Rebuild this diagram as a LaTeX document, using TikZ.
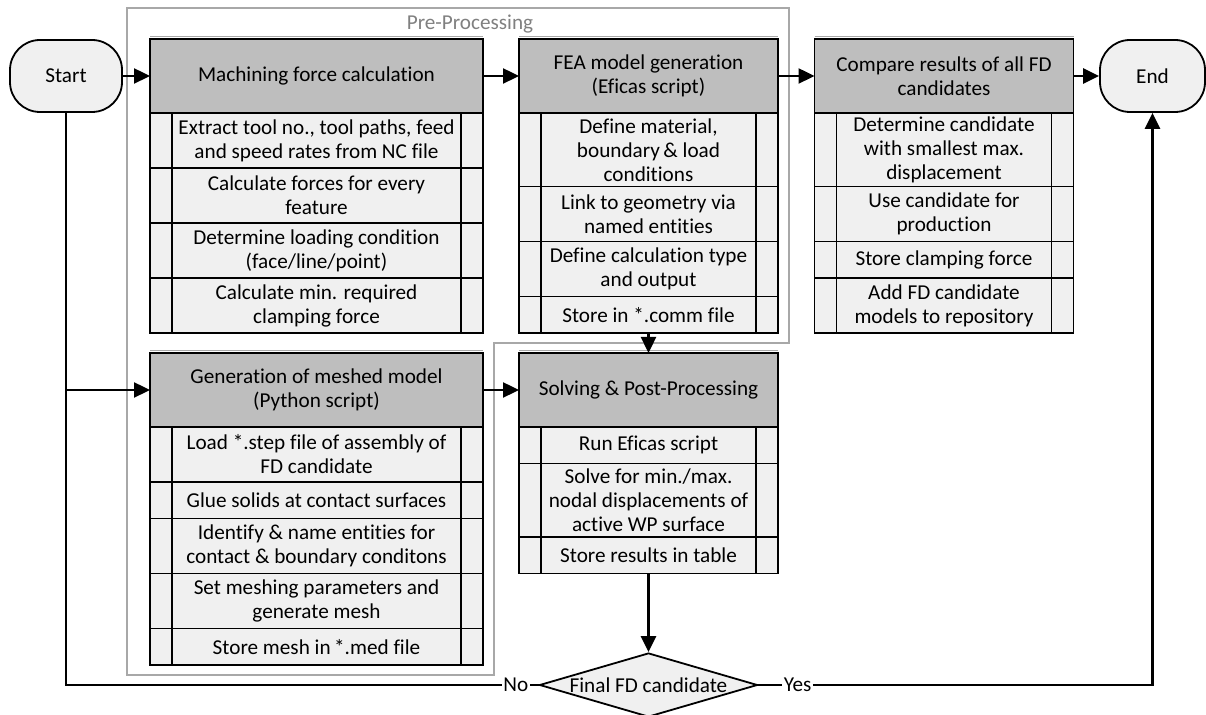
\documentclass[tikz,border=0pt]{standalone}
\usepackage{fontspec}
\setmainfont{Carlito}[Ligatures=NoCommon]
\usetikzlibrary{positioning,shapes.geometric,arrows.meta}

\definecolor{headfill}{HTML}{BEBEBE}
\definecolor{rowfill}{HTML}{F0F0F0}
\definecolor{framegray}{HTML}{A8A8A8}
\definecolor{labelgray}{HTML}{808080}

\tikzset{
  head/.style={draw, line width=0.9pt, fill=headfill, outer sep=0pt,
    minimum width=#1, minimum height=37pt, align=center, inner sep=0.5pt},
  task/.style={draw, line width=0.9pt, fill=rowfill, outer sep=0pt,
    minimum width=#1, align=center, inner sep=0.5pt},
  rowone/.style={task=#1, minimum height=18.25pt},
  rowtwo/.style={task=#1, minimum height=27.5pt},
  rowthree/.style={task=#1, minimum height=36.75pt},
  terminal/.style={draw, line width=0.9pt, fill=rowfill, rounded corners=15pt,
    minimum height=36pt},
  decision/.style={diamond, draw, line width=0.9pt, fill=rowfill, aspect=3.4,
    inner sep=0pt, minimum width=109pt, minimum height=32pt},
  flow/.style={line width=1.2pt, -{Triangle[length=8pt,width=7.5pt]}},
  link/.style={line width=1.2pt},
  strip/.style={line width=0.9pt},
  topedge/.style={framegray, line width=0.6pt},
}

\begin{document}
\begin{tikzpicture}[x=0.5pt,y=-0.5pt,font=\fontsize{10.6}{12}\selectfont]
  % --- Parameters ---
  \def\wide{166.5pt}    % width of the two left blocks
  \def\narrow{129.5pt}  % width of the other blocks
  \def\side{11pt}       % side strip in every task row
  \useasboundingbox (0,0) rectangle (1206,715);

  % Pre-Processing frame
  \draw[framegray, line width=0.75pt] (127,8) -- (789,8) -- (789,343)
    -- (494,343) -- (494,675) -- (127,675) -- cycle;
  \node[text=labelgray, inner sep=0.5pt] (prelabel) at (470,24) {Pre-Processing};

  % Start / End
  \node[terminal, minimum width=56pt] (start) at (66,76) {Start};
  \node[terminal, minimum width=52.5pt] (end) at (1152.5,76) {End};

  % --- Block 1: machining forces ---
  \node[head=\wide] (mach) at (316.5,76) {Machining force calculation};
  \node[rowtwo=\wide, below=0pt of mach] (mach1) {Extract tool no., tool paths, feed\\and speed rates from NC file};
  \node[rowtwo=\wide, below=0pt of mach1] (mach2) {Calculate forces for every\\feature};
  \node[rowtwo=\wide, below=0pt of mach2] (mach3) {Determine loading condition\\(face/line/point)};
  \node[rowtwo=\wide, below=0pt of mach3] (mach4) {Calculate min. required\\clamping force};

  % --- Block 2: FEA model ---
  \node[head=\narrow] (fea) at (648.5,76) {FEA model generation\\(Eficas script)};
  \node[rowthree=\narrow, below=0pt of fea] (fea1) {Define material,\\boundary\,\& load\\conditions};
  \node[rowtwo=\narrow, below=0pt of fea1] (fea2) {Link to geometry via\\named entities};
  \node[rowtwo=\narrow, below=0pt of fea2] (fea3) {Define calculation type\\and output};
  \node[rowone=\narrow, below=0pt of fea3] (fea4) {Store in *.comm file};

  % --- Block 3: comparison ---
  \node[head=\narrow] (cmp) at (944,76) {Compare results of all FD\\candidates};
  \node[rowthree=\narrow, below=0pt of cmp] (cmp1) {Determine candidate\\with smallest max.\\displacement};
  \node[rowtwo=\narrow, below=0pt of cmp1] (cmp2) {Use candidate for\\production};
  \node[rowone=\narrow, below=0pt of cmp2] (cmp3) {Store clamping force};
  \node[rowtwo=\narrow, below=0pt of cmp3] (cmp4) {Add FD candidate\\models to repository};

  % --- Block 4: meshed model ---
  \node[head=\wide] (mesh) at (316.5,390) {Generation of meshed model\\(Python script)};
  \node[rowtwo=\wide, below=0pt of mesh] (mesh1) {Load *.step file of assembly of\\FD candidate};
  \node[rowone=\wide, below=0pt of mesh1] (mesh2) {Glue solids at contact surfaces};
  \node[rowtwo=\wide, below=0pt of mesh2] (mesh3) {Identify \& name entities for\\contact \& boundary conditons};
  \node[rowtwo=\wide, below=0pt of mesh3] (mesh4) {Set meshing parameters and\\generate mesh};
  \node[rowone=\wide, below=0pt of mesh4] (mesh5) {Store mesh in\,*.med file};

  % --- Block 5: solving ---
  \node[head=\narrow] (solve) at (648.5,390) {Solving \& Post-Processing};
  \node[rowone=\narrow, below=0pt of solve] (solve1) {Run Eficas script};
  \node[rowthree=\narrow, below=0pt of solve1] (solve2) {Solve for min./max.\\nodal displacements of\\active WP surface};
  \node[rowone=\narrow, below=0pt of solve2] (solve3) {Store results in table};

  % side strips and top edges of the blocks
  \foreach \a/\b in {mach1/mach4, fea1/fea4, cmp1/cmp4, mesh1/mesh5, solve1/solve3} {
    \draw[strip] ([xshift=\side]\a.north west) -- ([xshift=\side]\b.south west);
    \draw[strip] ([xshift=-\side]\a.north east) -- ([xshift=-\side]\b.south east);
  }
  \foreach \h in {mach, fea, cmp, mesh, solve}
    \draw[topedge] ([yshift=1.2pt]\h.north west) -- ([yshift=1.2pt]\h.north east);

  % Decision
  \node[decision] (decide) at (648.5,685) {Final FD candidate};
  \node[inner sep=0.5pt, left=4.5pt of decide.west] (no) {No};
  \node[inner sep=0.5pt, right=12pt of decide.east] (yes) {Yes};

  % Connectors
  \draw[flow] (start) -- (mach);
  \draw[flow] (mach) -- (fea);
  \draw[flow] (fea) -- (cmp);
  \draw[flow] (cmp) -- (end);
  \draw[flow] (fea4) -- (solve);
  \draw[flow] (mesh) -- (solve);
  \draw[flow] (solve3) -- (decide);
  \coordinate (split) at (start |- mesh);
  \draw[flow] (split) -- (mesh);
  \draw[link] (decide.west) -- (no.east);
  \draw[link] (no.west) -- (no -| start) -- (start);
  \draw[link] (decide.east) -- (yes.west);
  \draw[flow] (yes.east) -- (yes -| end) -- (end);
\end{tikzpicture}
\end{document}
